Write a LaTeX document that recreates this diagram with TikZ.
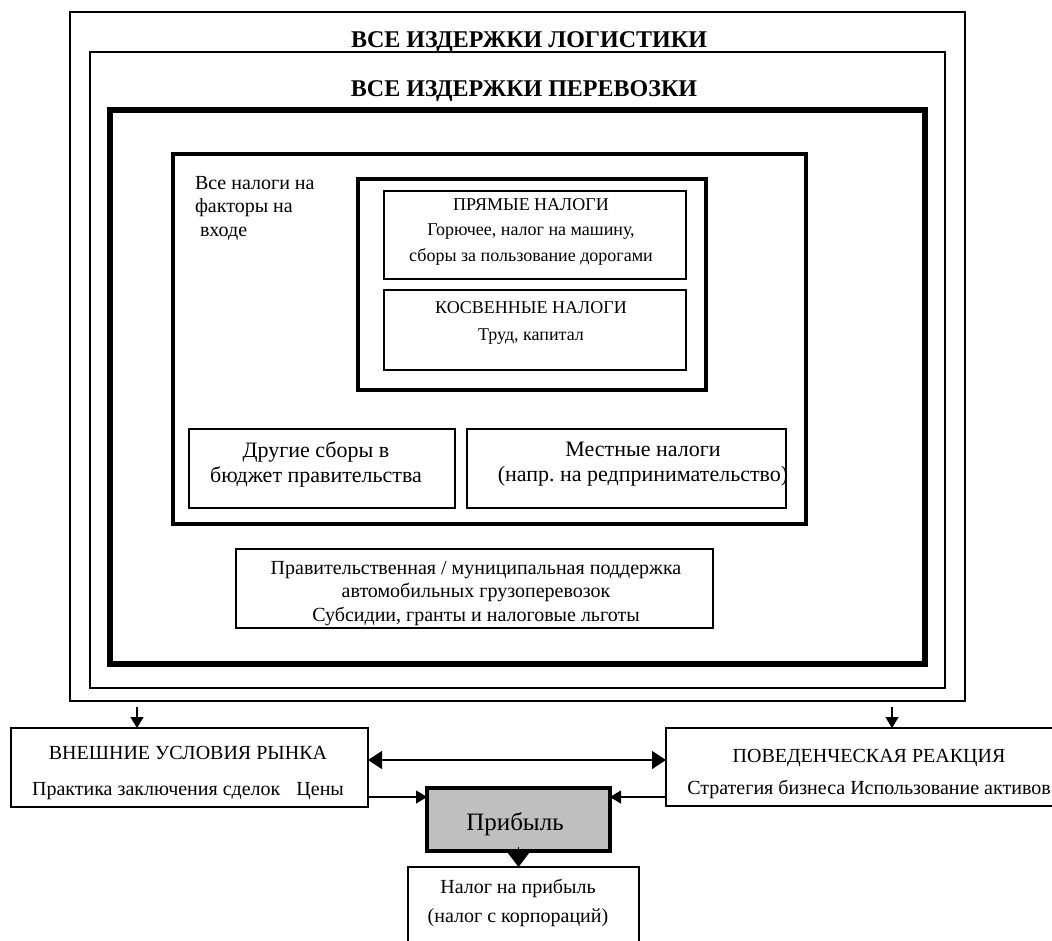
\documentclass[tikz,border=0pt]{standalone}
\usepackage{fontspec}
\setmainfont{Liberation Serif}
\usetikzlibrary{arrows.meta}

\begin{document}
\begin{tikzpicture}[x=1pt, y=-1pt,
  every node/.style = {inner sep=0pt, outer sep=0pt},
  box/.style = {draw, line width=1.2pt},
  heavybox/.style = {draw, line width=6.5pt},
  midbox/.style = {draw, line width=4pt},
  size/.style 2 args = {font=\fontsize{#1}{#2}\selectfont},
  title/.style = {font=\bfseries\fontsize{24}{28}\selectfont},
  txt/.style = {align=center},
  arr/.style = {line width=1.2pt, -{Triangle[length=11pt, width=13pt]}},
  dblarr/.style = {line width=1.2pt, {Triangle[length=14pt, width=18pt]}-{Triangle[length=14pt, width=18pt]}},
  bigarr/.style = {line width=1.2pt, -{Triangle[length=18pt, width=27pt]}},
  ]
  \useasboundingbox (0,0) rectangle (1052,940);
  % frames
  \node[box, minimum width=895pt, minimum height=689pt] (logi) at (517.5,356.5) {};
  \node[box, minimum width=855pt, minimum height=636pt] (trans) at (517.5,370) {};
  \node[heavybox, minimum width=815pt, minimum height=554pt] (costs) at (517.5,387) {};
  \node[midbox, minimum width=633pt, minimum height=370pt] (taxall) at (489.5,339) {};
  \node[draw, line width=3.5pt, minimum width=348pt, minimum height=211pt] (taxin) at (532,284.5) {};
  \node[box, minimum width=302pt, minimum height=88pt] (direct) at (535,235) {};
  \node[box, minimum width=302pt, minimum height=80pt] (indirect) at (535,330) {};
  \node[box, minimum width=266pt, minimum height=79pt] (other) at (322,468.5) {};
  \node[box, minimum width=319pt, minimum height=79pt] (local) at (626.5,468.5) {};
  \node[box, minimum width=477pt, minimum height=79pt] (support) at (474.5,588.5) {};
  \node[box, minimum width=357pt, minimum height=79pt] (market) at (189.5,767.5) {};
  \node[box, minimum width=394pt, minimum height=78pt] (behav) at (863,767) {};
  \node[midbox, fill=black!25, minimum width=183pt, minimum height=63pt] (profit) at (518.5,819.5) {};
  \node[box, minimum width=231pt, minimum height=83pt] (ptax) at (523.5,908.5) {};
  % texts
  \node[title] (tlogi) at (529,42) {ВСЕ ИЗДЕРЖКИ ЛОГИСТИКИ};
  \node[title] (ttrans) at (524,91) {ВСЕ ИЗДЕРЖКИ ПЕРЕВОЗКИ};
  \node[size={20}{23.5}, align=left, anchor=north west] (ttaxall) at (195,176) {Все налоги на\\факторы на\\ \ входе};
  \node[txt, size={18}{25.5}] (tdirect) at (531,231.5) {ПРЯМЫЕ НАЛОГИ\\Горючее, налог на машину,\\сборы за пользование дорогами};
  \node[txt, size={18}{27}] (tindirect) at (531,323) {КОСВЕННЫЕ НАЛОГИ\\Труд, капитал};
  \node[txt, size={22}{25}] (tother) at (316,464) {Другие сборы в\\бюджет правительства};
  \node[txt, size={22}{25}] (tlocal) at (643,464) {Местные налоги\\(напр.\ на редпринимательство)};
  \node[txt, size={20}{23.5}] (tsupport) at (476,593.5) {Правительственная / муниципальная поддержка\\автомобильных грузоперевозок\\Субсидии, гранты и налоговые льготы};
  \node[txt, size={20}{36}] (tmarket) at (188,773) {ВНЕШНИЕ УСЛОВИЯ РЫНКА\\Практика заключения сделок\hspace{16pt}Цены};
  \node[txt, size={20}{32}] (tbehav) at (869,773.5) {ПОВЕДЕНЧЕСКАЯ РЕАКЦИЯ\\Стратегия бизнеса Использование активов};
  \node[size={25}{30}] (tprofit) at (515,824) {Прибыль};
  \node[txt, size={20}{29}] (tptax) at (518,903) {Налог на прибыль\\(налог с корпораций)};
  % connectors
  \coordinate (mktin) at (137,707);
  \coordinate (behin) at (892,707);
  \coordinate (dbl) at (0,760);
  \coordinate (flow) at (0,797);
  \draw[arr] (mktin) -- (mktin |- market.north);
  \draw[arr] (behin) -- (behin |- behav.north);
  \draw[dblarr] (market.east |- dbl) -- (behav.west |- dbl);
  \draw[arr] (market.east |- flow) -- (profit.west |- flow);
  \draw[arr] (behav.west |- flow) -- (profit.east |- flow);
  \draw[bigarr] ([yshift=4pt]profit.south) -- (profit.south |- ptax.north);
\end{tikzpicture}
\end{document}
